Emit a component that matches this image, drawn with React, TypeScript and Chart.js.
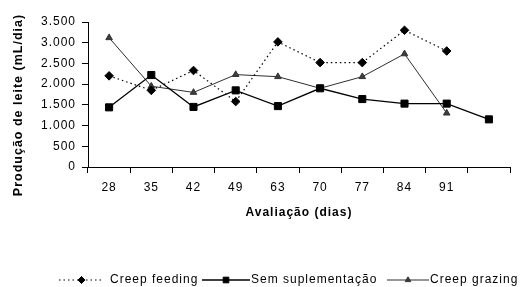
import { useEffect, useRef } from 'react';
import { Chart, registerables } from 'chart.js';
import { drawPoint } from 'chart.js/helpers';

Chart.register(...registerables);

const categories = ['28', '35', '42', '49', '63', '70', '77', '84', '91', ''];
const creepFeeding = [2200, 1850, 2330, 1580, 3020, 2520, 2520, 3300, 2800, null];
const semSuplementacao = [1440, 2220, 1450, 1850, 1470, 1900, 1640, 1530, 1530, 1150];
const creepGrazing = [3120, 1950, 1800, 2230, 2180, 1900, 2180, 2730, 1300, null];
const seriesNames = ['Creep feeding', 'Sem suplementação', 'Creep grazing'];
const yTitle = 'Produção de leite (mL/dia)';
const xTitle = 'Avaliação (dias)';
const yMax = 3500;
const yStep = 500;

const FONT = "'Liberation Sans', Arial, sans-serif";
const SPACING = '1px';

const fmt = (v: number) => String(v).replace(/\B(?=(\d{3})+(?!\d))/g, '.');

const spacingPlugin = {
  id: 'spacing',
  beforeUpdate(chart: any) {
    chart.ctx.letterSpacing = SPACING;
  },
  beforeDraw(chart: any) {
    chart.ctx.letterSpacing = SPACING;
  },
};

const yTitlePlugin = {
  id: 'yTitle',
  afterDraw(chart: any) {
    const ctx = chart.ctx;
    ctx.save();
    ctx.letterSpacing = SPACING;
    ctx.translate(19, 105);
    ctx.rotate(-Math.PI / 2);
    ctx.font = `bold 12.5px ${FONT}`;
    ctx.fillStyle = '#000';
    ctx.textAlign = 'center';
    ctx.textBaseline = 'middle';
    ctx.fillText(yTitle, 0, 0);
    ctx.restore();
  },
};

// legend layout: where each sample line starts and where its text starts
const LEGEND_SAMPLE_X = [59, 202, 387];
const LEGEND_TEXT_X = [110, 251, 430];

const legendPlugin = {
  id: 'lineLegend',
  afterDraw(chart: any) {
    const ctx = chart.ctx;
    const y = 280;
    ctx.save();
    ctx.letterSpacing = SPACING;
    ctx.font = `12px ${FONT}`;
    ctx.textBaseline = 'middle';
    ctx.textAlign = 'left';
    chart.data.datasets.forEach((ds: any, i: number) => {
      const x0 = LEGEND_SAMPLE_X[i];
      const x1 = LEGEND_TEXT_X[i] - (ds.borderDash ? 6 : 1);
      ctx.save();
      ctx.strokeStyle = ds.borderColor;
      ctx.lineWidth = ds.borderWidth;
      ctx.setLineDash(ds.borderDash || []);
      ctx.beginPath();
      ctx.moveTo(x0, y);
      ctx.lineTo(x1, y);
      ctx.stroke();
      ctx.setLineDash([]);
      ctx.fillStyle = ds.pointBackgroundColor;
      ctx.strokeStyle = ds.pointBorderColor;
      ctx.lineWidth = 1;
      drawPoint(ctx, { pointStyle: ds.pointStyle, radius: ds.legendRadius, rotation: 0, borderWidth: 1 }, (x0 + x1) / 2, y);
      ctx.restore();
      ctx.fillStyle = '#000';
      ctx.fillText(ds.label, LEGEND_TEXT_X[i], y);
    });
    ctx.restore();
  },
};

export default function App() {
  const ref = useRef<HTMLCanvasElement | null>(null);

  useEffect(() => {
    document.body.style.margin = '0';
    const canvas = ref.current;
    if (!canvas) return;
    const chart = new Chart(canvas, {
      type: 'line',
      data: {
        labels: categories,
        datasets: [
          {
            label: seriesNames[0],
            data: creepFeeding,
            borderColor: '#000',
            borderWidth: 1.2,
            borderDash: [1.5, 3],
            pointStyle: 'rectRot',
            pointRadius: 4.3,
            pointBackgroundColor: '#000',
            pointBorderColor: '#000',
            pointBorderWidth: 1,
            tension: 0,
            legendRadius: 3.5,
          } as any,
          {
            label: seriesNames[1],
            data: semSuplementacao,
            borderColor: '#000',
            borderWidth: 1.3,
            pointStyle: 'rect',
            pointRadius: 5,
            pointBackgroundColor: '#000',
            pointBorderColor: '#000',
            pointBorderWidth: 1,
            tension: 0,
            legendRadius: 4,
          } as any,
          {
            label: seriesNames[2],
            data: creepGrazing,
            borderColor: '#2e2e2e',
            borderWidth: 1,
            pointStyle: 'triangle',
            pointRadius: 3.8,
            pointBackgroundColor: '#3c3c3c',
            pointBorderColor: '#333',
            pointBorderWidth: 1,
            tension: 0,
            legendRadius: 3.2,
          } as any,
        ],
      },
      options: {
        responsive: false,
        animation: false,
        events: [],
        layout: { padding: { top: 22, right: 11, bottom: 67, left: 0 } },
        plugins: {
          legend: { display: false },
          tooltip: { enabled: false },
          title: { display: false },
        },
        scales: {
          x: {
            type: 'category',
            offset: true,
            afterFit: (s: any) => {
              s.height = 53;
            },
            grid: {
              display: true,
              offset: true,
              drawOnChartArea: false,
              drawTicks: true,
              tickLength: 6,
              color: '#000',
            },
            border: { display: true, color: '#000', width: 1 },
            ticks: {
              color: '#000',
              font: { family: FONT, size: 12 },
              padding: 7,
              maxRotation: 0,
              autoSkip: false,
            },
            title: {
              display: true,
              text: xTitle,
              color: '#000',
              font: { family: FONT, size: 12, weight: 'bold' },
              padding: { top: 0, bottom: 0 },
            },
          },
          y: {
            min: 0,
            max: yMax,
            afterFit: (s: any) => {
              s.width = 88;
            },
            grid: {
              display: true,
              drawOnChartArea: false,
              drawTicks: true,
              tickLength: 6,
              color: '#000',
            },
            border: { display: true, color: '#000', width: 1 },
            ticks: {
              stepSize: yStep,
              color: '#000',
              font: { family: FONT, size: 12 },
              padding: 6,
              callback: (v: any) => fmt(Number(v)),
            },
            title: { display: false },
          },
        },
      },
      plugins: [spacingPlugin, yTitlePlugin, legendPlugin],
    });
    return () => chart.destroy();
  }, []);

  return <canvas ref={ref} width={521} height={287} style={{ display: 'block' }} />;
}
